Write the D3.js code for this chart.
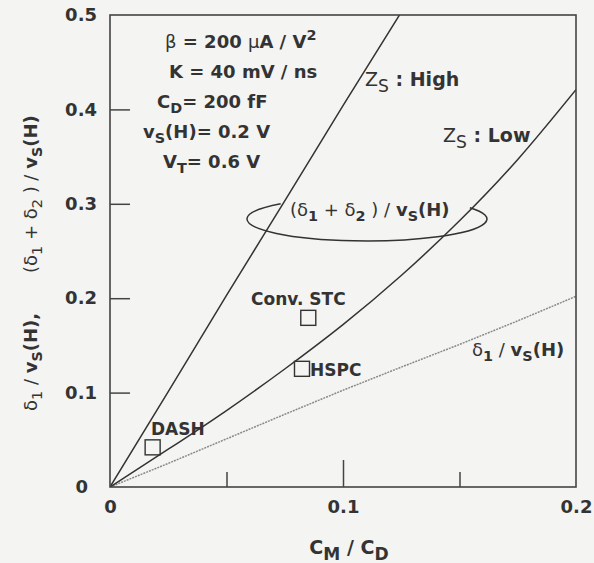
<!DOCTYPE html>
<html>
<head>
<meta charset="utf-8">
<script src="https://cdn.jsdelivr.net/npm/d3@7"></script>
<style>
  html, body { margin: 0; padding: 0; background: #f4f4f2; }
  svg { display: block; }
  text { font-family: "DejaVu Sans", "Liberation Sans", sans-serif; fill: #333; white-space: pre; }
</style>
</head>
<body>
<svg id="chart" width="594" height="563"></svg>
<script>
// Capacitance ratio C_M / C_D (x) and normalised disturbances (y)
const cmcd = [0, 0.025, 0.05, 0.075, 0.1, 0.125, 0.15, 0.175, 0.2];
const highZs = [0, 0.101, 0.203, 0.303, 0.404, 0.503];                          // (δ1+δ2)/vS(H), Zs high
const lowZs  = [0, 0.040, 0.081, 0.125, 0.172, 0.224, 0.282, 0.347, 0.421];     // (δ1+δ2)/vS(H), Zs low
const delta1 = [0, 0.025, 0.051, 0.077, 0.1025, 0.127, 0.151, 0.176, 0.202];    // δ1/vS(H)

// Circuit schemes
const schemes = ["DASH", "Conv. STC", "HSPC"];
const schemeX = [0.0183, 0.0851, 0.0824];
const schemeY = [0.0420, 0.1792, 0.1252];

// Axis ticks
const xTickLabels = [0, 0.1, 0.2];
const xMinorTicks = [0.05, 0.15];
const xMajorTicks = [0.1];
const yTickLabels = [0, 0.1, 0.2, 0.3, 0.4, 0.5];
const yTickMarks = [0.1, 0.2, 0.3, 0.4];

const svg = d3.select("#chart");
const W = 594, H = 563;
const L = 110, R = 576, T = 15, B = 487;

svg.append("rect").attr("width", W).attr("height", H).attr("fill", "#f4f4f2");

const x = d3.scaleLinear().domain([0, 0.2]).range([L, R]);
const y = d3.scaleLinear().domain([0, 0.5]).range([B, T]);

const ink = "#333";
const fs = 18;

// helper: rich text from segments {t, sub, sup, w}
function rich(g, px, py, segs, opts = {}) {
  const size = opts.size || fs;
  const t = g.append("text").attr("x", px).attr("y", py)
    .attr("font-size", size)
    .attr("text-anchor", opts.anchor || "start")
    .attr("font-weight", opts.weight || "bold");
  if (opts.transform) t.attr("transform", opts.transform);
  let shift = 0;
  segs.forEach(s => {
    const sp = t.append("tspan").text(s.t);
    let target = 0;
    if (s.sub) target = 0.3;
    if (s.sup) target = -0.42;
    const subSize = s.sub || s.sup ? size * (opts.subScale || 0.8) : size;
    // dy is measured in the tspan's own font size
    const d = (target - shift) * size / subSize;
    if (Math.abs(d) > 1e-9) sp.attr("dy", d + "em");
    shift = target;
    if (s.sub || s.sup) sp.attr("font-size", subSize);
    if (s.w) sp.attr("font-weight", s.w);
  });
  return t;
}

const lineGen = d3.line().x(d => x(d[0])).y(d => y(d[1]));

const plot = svg.append("g");
svg.append("clipPath").attr("id", "clip").append("rect")
  .attr("x", L).attr("y", T).attr("width", R - L).attr("height", B - T);

plot.append("path")
  .datum(delta1.map((v, i) => [cmcd[i], v]))
  .attr("d", lineGen).attr("fill", "none")
  .attr("stroke", "#8a8a8a").attr("stroke-width", 1.5)
  .attr("stroke-dasharray", "2 1").attr("clip-path", "url(#clip)");

const smooth = d3.line().x(d => x(d[0])).y(d => y(d[1])).curve(d3.curveNatural);

plot.append("path")
  .datum(lowZs.map((v, i) => [cmcd[i], v]))
  .attr("d", smooth).attr("fill", "none")
  .attr("stroke", ink).attr("stroke-width", 1.5).attr("clip-path", "url(#clip)");

plot.append("path")
  .datum(highZs.map((v, i) => [cmcd[i], v]))
  .attr("d", smooth).attr("fill", "none")
  .attr("stroke", ink).attr("stroke-width", 1.5).attr("clip-path", "url(#clip)");

// scheme markers
const sq = 15;
plot.selectAll("rect.scheme").data(schemes).join("rect")
  .attr("class", "scheme")
  .attr("x", (d, i) => x(schemeX[i]) - sq / 2)
  .attr("y", (d, i) => y(schemeY[i]) - sq / 2)
  .attr("width", sq).attr("height", sq)
  .attr("fill", "none").attr("stroke", ink).attr("stroke-width", 1.4);

// frame
svg.append("rect").attr("x", L).attr("y", T).attr("width", R - L).attr("height", B - T)
  .attr("fill", "none").attr("stroke", "#444").attr("stroke-width", 1.6);

// axes: tick marks point inward
function styleAxis(g) {
  g.select(".domain").remove();
  g.selectAll(".tick line").attr("stroke", "#444").attr("stroke-width", 1.5);
  g.selectAll(".tick text").attr("font-size", fs).attr("font-weight", "bold")
    .attr("fill", ink).attr("font-family", "DejaVu Sans, sans-serif");
}
svg.append("g").attr("transform", `translate(0,${B})`)
  .call(d3.axisBottom(x).tickValues(xMinorTicks).tickSize(-15).tickFormat(""))
  .call(styleAxis);
svg.append("g").attr("transform", `translate(0,${B})`)
  .call(d3.axisBottom(x).tickValues(xMajorTicks).tickSize(-27).tickFormat(""))
  .call(styleAxis);
svg.append("g").attr("transform", `translate(0,${B})`)
  .call(d3.axisBottom(x).tickValues(xTickLabels).tickSize(0).tickPadding(13)
    .tickFormat(d => d === 0 ? "0" : d3.format(".1f")(d)))
  .call(styleAxis);

svg.append("g").attr("transform", `translate(${L},0)`)
  .call(d3.axisLeft(y).tickValues(yTickMarks).tickSize(-20).tickFormat(""))
  .call(styleAxis);
const yLab = svg.append("g").attr("transform", `translate(${L},0)`)
  .call(d3.axisLeft(y).tickValues(yTickLabels).tickSize(0).tickPadding(13)
    .tickFormat(d => d === 0 ? "0" : d3.format(".1f")(d)))
  .call(styleAxis);
yLab.selectAll(".tick text").filter(d => d === 0).attr("x", -22);

// axis titles
rich(svg, x(0.1) + 6, 554, [{t: "C"}, {t: "M", sub: true}, {t: " / C"}, {t: "D", sub: true}],
  {anchor: "middle", size: 19, subScale: 0.9});

rich(svg, 0, 0, [
  {t: "δ", w: "normal"}, {t: "1", sub: true, w: "normal"}, {t: " / ", w: "normal"}, {t: "v"}, {t: "S", sub: true},
  {t: "(H),"}
], {size: 18, transform: "translate(37,411) rotate(-90)"});
rich(svg, 0, 0, [
  {t: "(δ", w: "normal"}, {t: "1", sub: true, w: "normal"}, {t: " + δ", w: "normal"}, {t: "2", sub: true, w: "normal"},
  {t: " ) / ", w: "normal"}, {t: "v"}, {t: "S", sub: true}, {t: "(H)"}
], {size: 18, transform: "translate(37,273) rotate(-90)"});

// parameter block
const par = svg.append("g");
rich(par, 165, 48, [{t: "β", w: "normal"}, {t: " = 200 "}, {t: "μ", w: "normal"}, {t: "A / V"}, {t: "2", sup: true}]);
rich(par, 169, 78, [{t: "K = 40 mV / ns"}]);
rich(par, 157, 108, [{t: "C"}, {t: "D", sub: true}, {t: "= 200 fF"}]);
rich(par, 143, 138, [{t: "v"}, {t: "S", sub: true}, {t: "(H)= 0.2 V"}]);
rich(par, 163, 168, [{t: "V"}, {t: "T", sub: true}, {t: "= 0.6 V"}]);

// curve labels
rich(svg, 365, 86, [{t: "Z", w: "normal"}, {t: "S", sub: true, w: "normal"}, {t: " : High"}], {size: 19, subScale: 0.9});
rich(svg, 443, 142, [{t: "Z", w: "normal"}, {t: "S", sub: true, w: "normal"}, {t: " : Low"}], {size: 19, subScale: 0.9});
rich(svg, 290, 216, [{t: "(δ", w: "normal"}, {t: "1", sub: true}, {t: " + δ", w: "normal"}, {t: "2", sub: true},
  {t: " ) / ", w: "normal"}, {t: "v"}, {t: "S", sub: true}, {t: "(H)"}], {size: 18});
rich(svg, 472, 356, [{t: "δ", w: "normal"}, {t: "1", sub: true}, {t: " / ", w: "normal"}, {t: "v"}, {t: "S", sub: true}, {t: "(H)"}], {size: 18});

// scheme labels
rich(svg, 151, 435, [{t: "DASH"}], {size: 17});
rich(svg, 251, 305, [{t: "Conv. STC"}], {size: 17});
rich(svg, 310, 376, [{t: "HSPC"}], {size: 17});

// ellipse grouping both (δ1+δ2) curves, open at the top behind the label
const cx = x(0.1103), cy = y(0.2839);
const rx = x(0.0515) - x(0), ry = y(0) - y(0.0233);
const a0 = 224 * Math.PI / 180, a1 = -31 * Math.PI / 180;
const p0 = [cx + rx * Math.cos(a0), cy + ry * Math.sin(a0)];
const p1 = [cx + rx * Math.cos(a1), cy + ry * Math.sin(a1)];
svg.append("path")
  .attr("d", `M${p0[0]},${p0[1]} A${rx},${ry} 0 1 0 ${p1[0]},${p1[1]}`)
  .attr("fill", "none").attr("stroke", ink).attr("stroke-width", 1.5);
</script>
</body>
</html>
